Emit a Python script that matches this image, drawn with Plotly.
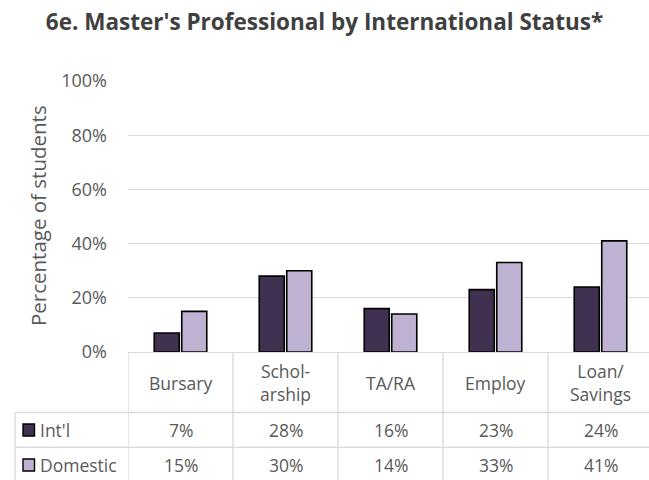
import plotly.graph_objects as go

categories = ["Bursary", "Schol-<br>arship", "TA/RA", "Employ", "Loan/<br>Savings"]
series_names = ["Int'l", "Domestic"]
intl_values = [7, 28, 16, 23, 24]
domestic_values = [15, 30, 14, 33, 41]
y_ticks = [0, 20, 40, 60, 80, 100]
colors = ["#403151", "#bfb1d1"]

W, H = 649, 480
L, R, T, B = 128, 0, 81, 128
PW = W - L - R
PH = H - T - B
text_color = "#595959"
grid_color = "#d9d9d9"
font_family = "Open Sans, Arial, sans-serif"


def xp(px):
    return (px - L) / PW


def yp(py):
    return (H - B - py) / PH


x_idx = list(range(len(categories)))

fig = go.Figure()
for name, vals, col in zip(series_names, [intl_values, domestic_values], colors):
    fig.add_trace(go.Bar(
        x=x_idx, y=vals, name=name,
        marker=dict(color=col, line=dict(color="#000000", width=1.6)),
        showlegend=False, hoverinfo="skip",
    ))

shapes = []
annotations = []

# vertical table lines at category boundaries
for i in range(len(categories)):
    shapes.append(dict(type="line", xref="x", yref="paper",
                       x0=i - 0.5, x1=i - 0.5, y0=0, y1=yp(490),
                       line=dict(color=grid_color, width=1.3)))
# horizontal table lines
for py in [412.5, 447.3]:
    shapes.append(dict(type="line", xref="paper", yref="paper",
                       x0=xp(15), x1=1.02, y0=yp(py), y1=yp(py),
                       line=dict(color=grid_color, width=1.3)))
# left column outer line
shapes.append(dict(type="line", xref="paper", yref="paper",
                   x0=xp(15), x1=xp(15), y0=yp(412.5), y1=yp(490),
                   line=dict(color=grid_color, width=1.3)))

# category header
for i, c in enumerate(categories):
    annotations.append(dict(x=i, y=yp(382.5), xref="x", yref="paper", text=c,
                            showarrow=False, xanchor="center", yanchor="middle",
                            font=dict(size=17.5, color=text_color, family=font_family)))

row_centers = [430, 465]
for r, (name, vals, col) in enumerate(zip(series_names, [intl_values, domestic_values], colors)):
    yc = row_centers[r]
    for i, v in enumerate(vals):
        annotations.append(dict(x=i, y=yp(yc), xref="x", yref="paper", text=f"{v}%",
                                showarrow=False, xanchor="center", yanchor="middle",
                                font=dict(size=17.5, color=text_color, family=font_family)))
    # legend key
    shapes.append(dict(type="rect", xref="paper", yref="paper",
                       x0=xp(23), x1=xp(34.5), y0=yp(yc - 6), y1=yp(yc + 6),
                       fillcolor=col, line=dict(color="#000000", width=1.4)))
    annotations.append(dict(x=xp(38), y=yp(yc), xref="paper", yref="paper", text=name,
                            showarrow=False, xanchor="left", yanchor="middle",
                            font=dict(size=17.5, color=text_color, family=font_family)))

# y axis title
annotations.append(dict(x=xp(38), y=yp(216), xref="paper", yref="paper",
                        text="Percentage of students", textangle=-90,
                        showarrow=False, xanchor="center", yanchor="middle",
                        font=dict(size=20.5, color=text_color, family=font_family)))

fig.update_layout(
    width=W, height=H,
    margin=dict(l=L, r=R, t=T, b=B, pad=0),
    paper_bgcolor="white", plot_bgcolor="white",
    title=dict(text="<b>6e. Master's Professional by International Status*</b>",
               x=0.5, xanchor="center", y=1 - 22 / H, yanchor="middle",
               font=dict(size=22.5, color="#404040", family=font_family)),
    barmode="group", bargap=0.476, bargroupgap=0.09,
    xaxis=dict(range=[-0.5, -0.5 + PW / 105.0], showticklabels=False, ticks="",
               showgrid=False, zeroline=False, showline=True, linecolor=grid_color,
               linewidth=1.3, fixedrange=True),
    yaxis=dict(range=[0, 100], tickvals=y_ticks, ticktext=[f"{t}%" for t in y_ticks],
               showgrid=True, gridcolor=grid_color, gridwidth=1.3, zeroline=False,
               showline=False, ticks="", ticklabelstandoff=20,
               tickfont=dict(size=18, color=text_color, family=font_family),
               fixedrange=True),
    shapes=shapes, annotations=annotations,
    font=dict(family=font_family, color=text_color),
)

fig.write_html(
    "out.html",
    config={"displayModeBar": False},
    post_script="document.body.style.margin='0';document.body.style.overflow='hidden';",
)
